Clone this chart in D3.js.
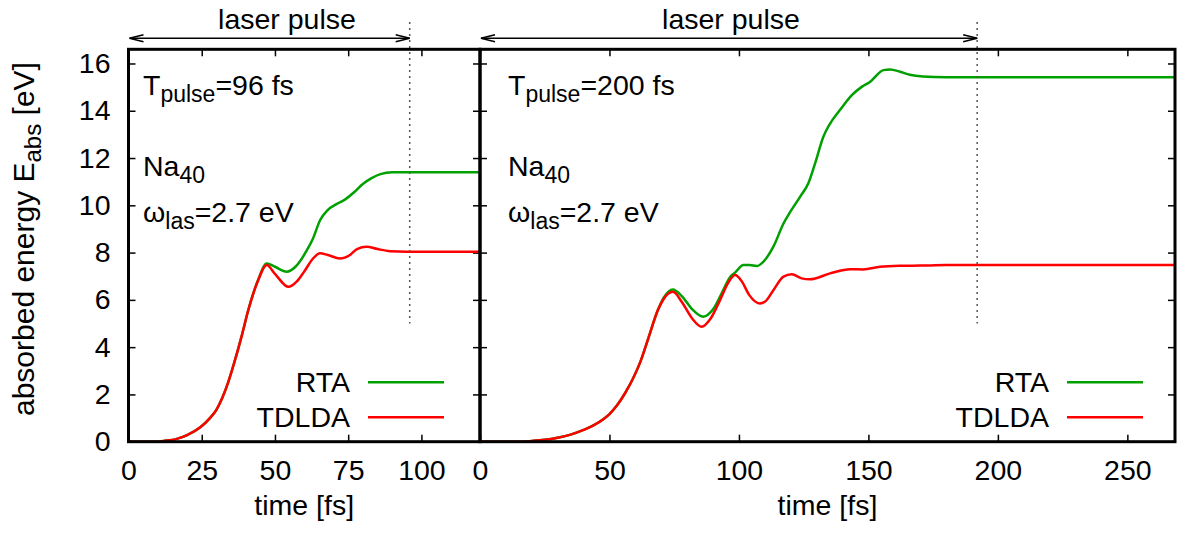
<!DOCTYPE html>
<html>
<head>
<meta charset="utf-8">
<script src="https://cdn.jsdelivr.net/npm/d3@7"></script>
<style>
body { margin: 0; background: #fff; }
text { font-family: "Liberation Sans", Arial, sans-serif; fill: #000; }
</style>
</head>
<body>
<svg width="1179" height="534"></svg>
<script>
// ---- data ----
var xTicksLeft = [0, 25, 50, 75, 100];
var xTicksRight = [0, 50, 100, 150, 200, 250];
var yTicks = [0, 2, 4, 6, 8, 10, 12, 14, 16];

// left panel, T_pulse = 96 fs
var tLeftTdlda = [0, 10, 12, 16.5, 20, 24.4, 27.8, 30, 32, 34, 36, 38.7, 40.9, 44.3, 47.2, 50, 54.6, 57.4, 60, 63, 65.4, 68, 72.2, 75.6, 78, 81.3, 85, 89.3, 95, 120];
var eLeftTdlda = [0, 0, 0.03, 0.12, 0.28, 0.6, 1.0, 1.35, 1.85, 2.5, 3.3, 4.5, 5.57, 6.84, 7.47, 7.1, 6.55, 6.77, 7.2, 7.75, 7.97, 7.9, 7.75, 7.9, 8.15, 8.25, 8.15, 8.06, 8.04, 8.04];
var tLeftRta = [0, 10, 12, 16.5, 20, 24.4, 27.8, 30, 32, 34, 36, 38.7, 40.9, 44.3, 47.2, 50, 54, 57, 60.9, 63, 65.4, 68, 71, 74, 77, 80, 83, 86, 90, 120];
var eLeftRta = [0, 0, 0.03, 0.12, 0.28, 0.6, 1.0, 1.35, 1.85, 2.5, 3.3, 4.5, 5.57, 6.86, 7.54, 7.4, 7.19, 7.4, 8.1, 8.6, 9.37, 9.8, 10.05, 10.25, 10.55, 10.9, 11.15, 11.32, 11.4, 11.4];

// right panel, T_pulse = 200 fs
var tRightTdlda = [0, 15, 20, 25, 30, 35, 40, 44, 47.6, 50, 53, 56, 59, 62, 65, 68.7, 71, 74.5, 78, 82, 85.6, 89, 92.7, 96, 98.5, 101, 104, 108, 110, 113.3, 117.2, 120.4, 124.2, 127.4, 135.2, 142.9, 148, 154.5, 162.2, 170, 180, 268.4];
var eRightTdlda = [0, 0, 0.03, 0.08, 0.17, 0.3, 0.5, 0.7, 0.95, 1.17, 1.55, 2.05, 2.65, 3.4, 4.37, 5.57, 6.05, 6.34, 5.9, 5.2, 4.86, 5.2, 5.99, 6.75, 7.05, 6.8, 6.2, 5.85, 5.92, 6.41, 6.98, 7.08, 6.91, 6.87, 7.12, 7.3, 7.29, 7.4, 7.44, 7.45, 7.47, 7.47];
var tRightRta = [0, 15, 20, 25, 30, 35, 40, 44, 47.6, 50, 53, 56, 59, 62, 65, 68.7, 71, 74.5, 78, 82, 86.2, 90, 93, 96.6, 98.5, 101.7, 104, 106.9, 109.4, 113.3, 117.2, 119.8, 123.6, 126.8, 129.4, 132.6, 135.2, 139, 143.6, 147.4, 150.6, 155.8, 158.4, 162.2, 166, 171, 180, 268.4];
var eRightRta = [0, 0, 0.03, 0.08, 0.17, 0.3, 0.5, 0.7, 0.95, 1.17, 1.55, 2.05, 2.65, 3.4, 4.37, 5.57, 6.1, 6.44, 6.15, 5.6, 5.29, 5.6, 6.2, 6.97, 7.15, 7.47, 7.47, 7.43, 7.61, 8.25, 9.23, 9.72, 10.36, 10.93, 11.77, 12.9, 13.46, 14.03, 14.66, 15.01, 15.22, 15.72, 15.75, 15.65, 15.52, 15.45, 15.42, 15.42];

var seriesNames = ['RTA', 'TDLDA'];
var seriesColors = ['#00a000', '#ff0000'];

// ---- layout ----
var fs = 28.5, subFs = 23;
var svg = d3.select('svg');

var y = d3.scaleLinear()
    .domain([0, 16.6])
    .range([441.7, 49.3]);

var panels = [
    { x: d3.scaleLinear().domain([0, 120]).range([128.5, 480]), ticks: xTicksLeft,
      rta: d3.zip(tLeftRta, eLeftRta), tdlda: d3.zip(tLeftTdlda, eLeftTdlda),
      pulseEnd: 96, label: '96 fs', textX: 143, legendX: 350, pulseTextX: 287, yLabels: true },
    { x: d3.scaleLinear().domain([0, 268.4]).range([480, 1175]), ticks: xTicksRight,
      rta: d3.zip(tRightRta, eRightRta), tdlda: d3.zip(tRightTdlda, eRightTdlda),
      pulseEnd: 192, label: '200 fs', textX: 508, legendX: 1049, pulseTextX: 731, yLabels: false }
];

// arrow head marker
var defs = svg.append('defs');
defs.append('marker')
    .attr('id', 'head')
    .attr('viewBox', '0 0 16 10')
    .attr('refX', 15).attr('refY', 5)
    .attr('markerWidth', 16).attr('markerHeight', 10)
    .attr('markerUnits', 'userSpaceOnUse')
    .attr('orient', 'auto-start-reverse')
    .append('path')
    .attr('d', 'M1,1.5 L15,5 L1,8.5')
    .attr('fill', 'none')
    .attr('stroke', 'black')
    .attr('stroke-width', 1.6);

function richText(g, x, y0, parts, size, sub) {
    size = size || fs; sub = sub || subFs;
    var t = g.append('text').attr('x', x).attr('y', y0).style('font-size', size + 'px');
    var shift = 0;
    parts.forEach(function(p) {
        var s = p[1] ? 7 : 0;
        t.append('tspan')
            .attr('dy', s - shift)
            .style('font-size', (p[1] ? sub : size) + 'px')
            .text(p[0]);
        shift = s;
    });
    return t;
}

panels.forEach(function(p, i) {
    var g = svg.append('g');
    var x0 = p.x.range()[0], x1 = p.x.range()[1];

    defs.append('clipPath').attr('id', 'clip' + i)
        .append('rect')
        .attr('x', x0).attr('y', y.range()[1])
        .attr('width', x1 - x0).attr('height', y.range()[0] - y.range()[1]);

    // axes, ticks pointing inward on all four sides
    var bottom = g.append('g')
        .attr('transform', 'translate(0,' + y.range()[0] + ')')
        .call(d3.axisBottom(p.x).tickValues(p.ticks).tickSize(-7).tickPadding(18));
    var top = g.append('g')
        .attr('transform', 'translate(0,' + y.range()[1] + ')')
        .call(d3.axisTop(p.x).tickValues(p.ticks).tickSize(-7).tickFormat(''));
    var left = g.append('g')
        .attr('transform', 'translate(' + x0 + ',0)')
        .call(d3.axisLeft(y).tickValues(yTicks).tickSize(-7).tickPadding(18)
              .tickFormat(p.yLabels ? d3.format('d') : ''));
    var right = g.append('g')
        .attr('transform', 'translate(' + x1 + ',0)')
        .call(d3.axisRight(y).tickValues(yTicks).tickSize(-7).tickFormat(''));

    [bottom, top, left, right].forEach(function(a) {
        a.select('.domain').remove();
        a.selectAll('.tick line').attr('stroke', 'black').attr('stroke-width', 1.5);
        a.selectAll('text').style('font-size', fs + 'px')
            .style('font-family', '"Liberation Sans", Arial, sans-serif');
    });

    // curves
    var line = d3.line()
        .x(function(d) { return p.x(d[0]); })
        .y(function(d) { return y(d[1]); })
        .curve(d3.curveMonotoneX);

    var gLines = g.append('g').attr('clip-path', 'url(#clip' + i + ')');
    gLines.append('path').datum(p.rta)
        .attr('d', line).attr('fill', 'none')
        .attr('stroke', seriesColors[0]).attr('stroke-width', 2.5);
    gLines.append('path').datum(p.tdlda)
        .attr('d', line).attr('fill', 'none')
        .attr('stroke', seriesColors[1]).attr('stroke-width', 2.5);

    // end of pulse marker
    g.append('line')
        .attr('x1', p.x(p.pulseEnd)).attr('x2', p.x(p.pulseEnd))
        .attr('y1', 22).attr('y2', y(5))
        .attr('stroke', '#555').attr('stroke-width', 1.5)
        .attr('stroke-dasharray', '2,4');

    // laser pulse arrow
    g.append('line')
        .attr('x1', x0 + 1).attr('x2', p.x(p.pulseEnd))
        .attr('y1', 38.3).attr('y2', 38.3)
        .attr('stroke', 'black').attr('stroke-width', 1.6)
        .attr('marker-start', 'url(#head)')
        .attr('marker-end', 'url(#head)');
    g.append('text')
        .attr('x', p.pulseTextX).attr('y', 29)
        .attr('text-anchor', 'middle')
        .style('font-size', fs + 'px')
        .text('laser pulse');

    // annotations
    richText(g, p.textX, 95, [['T', 0], ['pulse', 1], ['=' + p.label, 0]]);
    richText(g, p.textX, 176, [['Na', 0], ['40', 1]]);
    richText(g, p.textX, 222, [['\u03c9', 0], ['las', 1], ['=2.7 eV', 0]]);

    // legend
    seriesNames.forEach(function(name, k) {
        var ly = 382.3 + k * 35;
        g.append('text')
            .attr('x', p.legendX).attr('y', ly + 10)
            .attr('text-anchor', 'end')
            .style('font-size', fs + 'px')
            .text(name);
        g.append('line')
            .attr('x1', p.legendX + 18).attr('x2', p.legendX + 94)
            .attr('y1', ly).attr('y2', ly)
            .attr('stroke', seriesColors[k]).attr('stroke-width', 2.5);
    });

    // frame
    g.append('rect')
        .attr('x', x0).attr('y', y.range()[1])
        .attr('width', x1 - x0).attr('height', y.range()[0] - y.range()[1])
        .attr('fill', 'none').attr('stroke', 'black').attr('stroke-width', 3);

    // x axis title
    g.append('text')
        .attr('x', (x0 + x1) / 2).attr('y', 515)
        .attr('text-anchor', 'middle')
        .style('font-size', fs + 'px')
        .text('time [fs]');
});

// y axis title
var yl = svg.append('g').attr('transform', 'translate(34,416) rotate(-90)');
richText(yl, 0, 0, [['absorbed energy E', 0], ['abs', 1], [' [eV]', 0]], 30, 24);
</script>
</body>
</html>
